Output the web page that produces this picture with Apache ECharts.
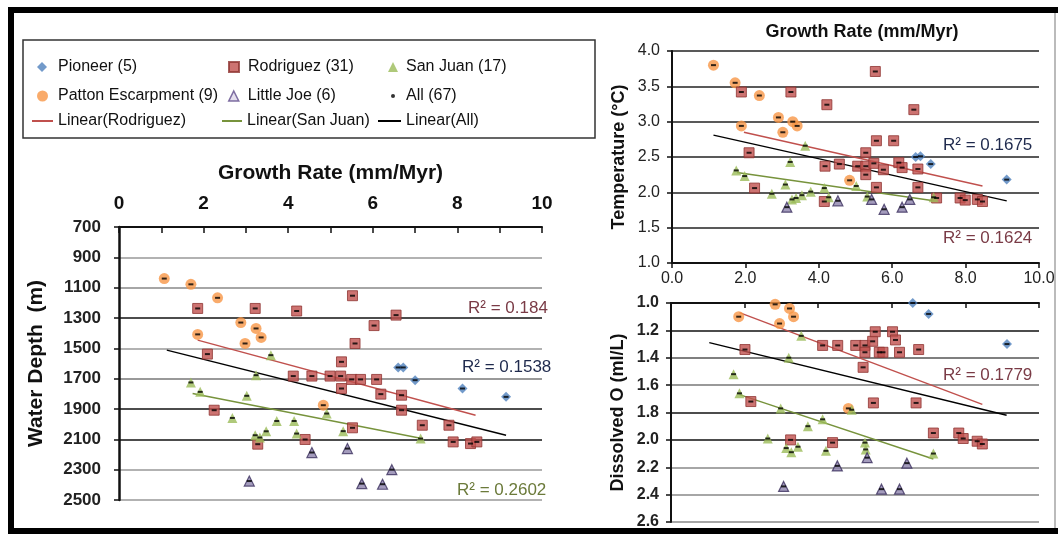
<!DOCTYPE html>
<html>
<head>
<meta charset="utf-8">
<script src="https://cdn.jsdelivr.net/npm/echarts@6/dist/echarts.min.js"></script>
<style>
  html, body { margin: 0; padding: 0; background: #fff; }
  #chart { width: 1058px; height: 534px; }
</style>
</head>
<body>
<div id="chart"></div>
<script>
// growth rate (mm/Myr) vs water depth (m)
var pioneerDepth = [[6.60,1626],[6.72,1626],[7.00,1710],[8.12,1765],[9.15,1820]];
var pattonDepth = [[1.07,1040],[1.70,1078],[2.33,1167],[2.88,1330],[3.24,1369],[3.36,1428],[1.86,1408],[2.98,1468],[4.83,1875]];
var rodriguezDepth = [[1.86,1237],[3.22,1237],[4.20,1254],[5.52,1153],[6.55,1281],[6.03,1350],[5.58,1468],[5.26,1589],[2.09,1538],[4.12,1683],[4.56,1683],[4.99,1683],[5.24,1683],[5.50,1705],[5.71,1705],[6.09,1705],[5.26,1765],[6.19,1802],[6.68,1809],[6.68,1908],[2.25,1908],[3.28,2132],[4.40,2101],[7.17,2007],[7.80,2007],[5.52,2024],[7.90,2117],[8.31,2128],[8.46,2117]];
var sanJuanDepth = [[3.59,1545],[3.24,1677],[1.70,1725],[1.92,1787],[3.02,1813],[2.68,1959],[3.73,1979],[4.14,1979],[4.20,2062],[3.48,2047],[3.22,2073],[3.33,2088],[4.91,1930],[5.30,2046],[7.13,2095]];
var littleJoeDepth = [[3.08,2375],[4.56,2187],[5.40,2161],[5.74,2392],[6.23,2396],[6.45,2300]];
var rodLineDepth = [[1.86,1446],[8.43,1941]];
var sjLineDepth = [[1.74,1798],[7.13,2093]];
var allLineDepth = [[1.13,1512],[9.15,2073]];

// growth rate vs temperature (°C)
var pioneerTemp = [[6.64,2.50],[6.77,2.51],[7.05,2.40],[9.12,2.18]];
var pattonTemp = [[1.13,3.80],[1.72,3.55],[2.38,3.37],[2.90,3.06],[3.29,3.00],[3.41,2.94],[1.89,2.94],[3.02,2.85],[4.84,2.17]];
var rodriguezTemp = [[1.89,3.42],[3.24,3.42],[4.22,3.24],[5.54,3.71],[6.59,3.17],[5.57,2.73],[6.04,2.73],[2.10,2.56],[5.28,2.56],[4.17,2.37],[4.56,2.40],[5.06,2.37],[5.28,2.37],[5.50,2.41],[5.76,2.32],[5.28,2.25],[6.18,2.42],[6.27,2.35],[6.70,2.33],[5.57,2.07],[6.70,2.07],[2.25,2.06],[7.21,1.92],[7.85,1.92],[7.99,1.89],[8.32,1.90],[8.46,1.87],[4.15,1.87]];
var sanJuanTemp = [[3.63,2.66],[3.22,2.43],[1.75,2.31],[1.98,2.23],[3.09,2.11],[2.72,1.98],[3.27,1.90],[3.38,1.92],[3.54,1.96],[3.78,2.01],[4.15,2.06],[4.27,1.93],[5.02,2.09],[5.32,1.94],[7.13,1.93]];
var littleJoeTemp = [[3.13,1.79],[4.52,1.88],[5.44,1.90],[5.78,1.76],[6.27,1.79],[6.48,1.90]];
var rodLineTemp = [[1.96,2.85],[8.46,2.09]];
var sjLineTemp = [[1.77,2.28],[7.13,1.88]];
var allLineTemp = [[1.13,2.81],[9.12,1.88]];

// growth rate vs dissolved O (ml/L)
var pioneerDO = [[6.57,1.00],[7.00,1.08],[9.13,1.30]];
var pattonDO = [[2.83,1.01],[3.22,1.04],[3.33,1.10],[1.84,1.10],[2.95,1.15],[4.82,1.77]];
var rodriguezDO = [[2.01,1.34],[4.12,1.31],[4.53,1.31],[5.02,1.31],[5.27,1.31],[5.27,1.36],[5.48,1.28],[5.55,1.21],[5.66,1.36],[5.76,1.36],[6.02,1.21],[6.10,1.27],[6.21,1.36],[6.73,1.34],[5.22,1.47],[2.17,1.72],[5.50,1.73],[6.66,1.73],[3.25,2.00],[4.39,2.02],[7.13,1.95],[7.82,1.95],[7.94,1.99],[8.32,2.01],[8.46,2.03]];
var sanJuanDO = [[3.54,1.24],[3.20,1.40],[1.70,1.52],[1.86,1.66],[2.98,1.77],[4.91,1.78],[4.12,1.85],[3.72,1.90],[2.63,1.99],[3.13,2.06],[3.27,2.09],[3.45,2.05],[4.21,2.08],[5.27,2.02],[5.29,2.07],[7.13,2.10]];
var littleJoeDO = [[3.06,2.34],[4.52,2.19],[5.33,2.13],[6.41,2.17],[5.72,2.36],[6.21,2.36]];
var rodLineDO = [[1.86,1.07],[8.46,1.74]];
var sjLineDO = [[1.86,1.67],[7.13,2.14]];
var allLineDO = [[1.04,1.29],[9.12,1.82]];

var FONT = '"Liberation Sans", Arial, sans-serif';

var chart = echarts.init(document.getElementById('chart'));

// one panel = trend lines + 5 groups + "All" dots
function panelSeries(g, d) {
  var s = [];
  function line(name, data, color) {
    s.push({
      name: name, type: 'line', xAxisIndex: g, yAxisIndex: g, data: data,
      symbol: 'none', silent: true, z: 2,
      lineStyle: { color: color, width: 1.4 }, itemStyle: { color: color }
    });
  }
  function pts(name, data, symbol, size, style) {
    s.push({
      name: name, type: 'scatter', xAxisIndex: g, yAxisIndex: g, data: data,
      symbol: symbol, symbolSize: size, itemStyle: style, z: 3
    });
  }
  line('Linear(Rodriguez)', d.rodLine, '#c0504d');
  line('Linear(San Juan)', d.sjLine, '#77933c');
  line('Linear(All)', d.allLine, '#000');
  pts('Pioneer (5)', d.pioneer, 'diamond', 10, { color: '#4f81bd' });
  pts('Patton Escarpment (9)', d.patton, 'circle', 11, { color: '#f79646' });
  pts('Rodriguez (31)', d.rodriguez, 'rect', 10, { color: '#c0504d', borderColor: '#8e3432', borderWidth: 1 });
  pts('San Juan (17)', d.sanJuan, 'triangle', 10, { color: '#9bbb59' });
  pts('Little Joe (6)', d.littleJoe, 'triangle', 10, { color: '#8d83ad', borderColor: '#3b2f5e', borderWidth: 1.2 });
  var all = [].concat(d.pioneer, d.patton, d.rodriguez, d.sanJuan, d.littleJoe);
  s.push({
    name: 'All (67)', type: 'scatter', xAxisIndex: g, yAxisIndex: g, data: all,
    symbol: 'rect', symbolSize: [5, 2], itemStyle: { color: '#000' }, z: 4, silent: true
  });
  return s;
}

var series = [].concat(
  panelSeries(0, { pioneer: pioneerDepth, patton: pattonDepth, rodriguez: rodriguezDepth, sanJuan: sanJuanDepth, littleJoe: littleJoeDepth, rodLine: rodLineDepth, sjLine: sjLineDepth, allLine: allLineDepth }),
  panelSeries(1, { pioneer: pioneerTemp, patton: pattonTemp, rodriguez: rodriguezTemp, sanJuan: sanJuanTemp, littleJoe: littleJoeTemp, rodLine: rodLineTemp, sjLine: sjLineTemp, allLine: allLineTemp }),
  panelSeries(2, { pioneer: pioneerDO, patton: pattonDO, rodriguez: rodriguezDO, sanJuan: sanJuanDO, littleJoe: littleJoeDO, rodLine: rodLineDO, sjLine: sjLineDO, allLine: allLineDO })
);

// each legend entry placed on its own: icon box w x h starting at left, text at textX
function leg(item, left, cy, w, h, textX) {
  return {
    data: [item], left: left, top: cy - 9, itemWidth: w, itemHeight: h, padding: 0,
    selectedMode: false,
    textStyle: { fontSize: 16, color: '#111', fontFamily: FONT,
      padding: [0, 0, 0, Math.max(0, textX - (left + w + 5))] }
  };
}
var legends = [
  leg({ name: 'Pioneer (5)', icon: 'diamond' }, 37, 68, 10, 10, 58),
  leg({ name: 'Rodriguez (31)', icon: 'rect' }, 228, 68, 10, 10, 247),
  leg({ name: 'San Juan (17)', icon: 'triangle' }, 388, 68, 10, 10, 406),
  leg({ name: 'Patton Escarpment (9)', icon: 'circle' }, 37, 97, 11, 11, 58),
  leg({ name: 'Little Joe (6)', icon: 'triangle', itemStyle: { color: '#ddd6ea', borderColor: '#5f4b8b', borderWidth: 1.5 } }, 228, 97, 10, 10, 247),
  leg({ name: 'All (67)', icon: 'circle' }, 391, 97, 4, 4, 406),
  leg({ name: 'Linear(Rodriguez)', icon: 'rect', itemStyle: { color: '#c0504d' } }, 32, 122, 21, 2, 58),
  leg({ name: 'Linear(San Juan)', icon: 'rect', itemStyle: { color: '#77933c' } }, 222, 122, 20, 2, 247),
  leg({ name: 'Linear(All)', icon: 'rect', itemStyle: { color: '#000' } }, 378, 122, 23, 2, 406)
];

var option = {
  animation: false,
  backgroundColor: '#fff',
  textStyle: { fontFamily: FONT },
  legend: legends,
  grid: [
    { left: 119, top: 227, width: 423, height: 273 },
    { left: 672, top: 51, width: 367, height: 212 },
    { left: 671, top: 303, width: 368, height: 219 }
  ],
  xAxis: [
    {
      gridIndex: 0, type: 'value', position: 'top', min: 0, max: 10, interval: 1,
      name: 'Growth Rate (mm/Myr)', nameLocation: 'middle', nameGap: 43,
      nameTextStyle: { fontSize: 21, fontWeight: 'bold', color: '#111' },
      axisLine: { lineStyle: { color: '#111', width: 2 } },
      axisTick: { inside: true, length: 6, lineStyle: { color: '#111', width: 1.5 } },
      axisLabel: { fontSize: 19, fontWeight: 'bold', color: '#111', margin: 14,
        formatter: function (v) { return v % 2 === 0 ? v : ''; } },
      splitLine: { show: false }
    },
    {
      gridIndex: 1, type: 'value', position: 'bottom', min: 0, max: 10, interval: 2,
      axisLine: { onZero: false, lineStyle: { color: '#111', width: 2 } },
      axisTick: { length: 5, lineStyle: { color: '#111', width: 1.5 } },
      axisLabel: { fontSize: 16, color: '#222', margin: 8,
        formatter: function (v) { return v.toFixed(1); } },
      splitLine: { show: false }
    },
    {
      gridIndex: 2, type: 'value', position: 'top', min: 0, max: 10, interval: 2,
      axisLine: { onZero: false, lineStyle: { color: '#111', width: 2 } },
      axisTick: { inside: true, length: 5, lineStyle: { color: '#111', width: 1.5 } },
      axisLabel: { show: false },
      splitLine: { show: false }
    }
  ],
  yAxis: [
    {
      gridIndex: 0, type: 'value', inverse: true, min: 700, max: 2500, interval: 200,
      name: 'Water Depth  (m)', nameLocation: 'middle', nameGap: 72,
      nameTextStyle: { fontSize: 21, fontWeight: 'bold', color: '#111' },
      axisLine: { show: true, lineStyle: { color: '#111', width: 2.5 } },
      axisTick: { show: true, length: 5, lineStyle: { color: '#111', width: 1.5 } },
      axisLabel: { fontSize: 17, fontWeight: 'bold', color: '#222', margin: 18,
        formatter: function (v) { return String(v); } },
      splitLine: { lineStyle: { width: 1.6,
        color: ['#111', '#999', '#888', '#111', '#999', '#777', '#111', '#111', '#999', '#999'] } }
    },
    {
      gridIndex: 1, type: 'value', min: 1, max: 4, interval: 0.5,
      name: 'Temperature (°C)', nameLocation: 'middle', nameGap: 44,
      nameTextStyle: { fontSize: 18, fontWeight: 'bold', color: '#111' },
      axisLine: { show: true, lineStyle: { color: '#111', width: 2 } },
      axisTick: { show: true, length: 5, lineStyle: { color: '#111', width: 1.5 } },
      axisLabel: { fontSize: 16, color: '#222', margin: 12,
        formatter: function (v) { return v.toFixed(1); } },
      splitLine: { lineStyle: { width: 1.6, color: '#222' } }
    },
    {
      gridIndex: 2, type: 'value', inverse: true, min: 1, max: 2.6, interval: 0.2,
      name: 'Dissolved O (ml/L)', nameLocation: 'middle', nameGap: 44,
      nameTextStyle: { fontSize: 18, fontWeight: 'bold', color: '#111' },
      axisLine: { show: true, lineStyle: { color: '#111', width: 2 } },
      axisTick: { show: true, length: 5, lineStyle: { color: '#111', width: 1.5 } },
      axisLabel: { fontSize: 16, fontWeight: 'bold', color: '#222', margin: 12,
        formatter: function (v) { return v.toFixed(1); } },
      splitLine: { lineStyle: { width: 1.6,
        color: ['#111', '#111', '#555', '#777', '#111', '#111', '#888', '#888', '#888'] } }
    }
  ],
  graphic: [
    // outer frame: heavy black on top/left/bottom, faint on the right
    { type: 'line', shape: { x1: 8, y1: 10, x2: 1058, y2: 10 }, silent: true, style: { stroke: '#000', lineWidth: 6 } },
    { type: 'line', shape: { x1: 11, y1: 7, x2: 11, y2: 534 }, silent: true, style: { stroke: '#000', lineWidth: 6 } },
    { type: 'line', shape: { x1: 8, y1: 531, x2: 1058, y2: 531 }, silent: true, style: { stroke: '#000', lineWidth: 6 } },
    { type: 'line', shape: { x1: 1055, y1: 13, x2: 1055, y2: 528 }, silent: true, style: { stroke: '#bbb', lineWidth: 2 } },
    // legend box
    { type: 'rect', shape: { x: 23, y: 40, width: 572, height: 98 }, silent: true,
      style: { fill: 'none', stroke: '#333', lineWidth: 1.5 } },
    { type: 'text', x: 862, y: 32, silent: true,
      style: { text: 'Growth Rate (mm/Myr)', font: 'bold 18px ' + FONT, fill: '#111',
        textAlign: 'center', textVerticalAlign: 'middle', align: 'center', verticalAlign: 'middle' } },
    { type: 'text', x: 468, y: 308, silent: true,
      style: { text: 'R² = 0.184', font: '17px ' + FONT, fill: '#7a3b46', textVerticalAlign: 'middle', verticalAlign: 'middle' } },
    { type: 'text', x: 462, y: 367, silent: true,
      style: { text: 'R² = 0.1538', font: '17px ' + FONT, fill: '#1f2a4d', textVerticalAlign: 'middle', verticalAlign: 'middle' } },
    { type: 'text', x: 457, y: 490, silent: true,
      style: { text: 'R² = 0.2602', font: '17px ' + FONT, fill: '#6b7a3a', textVerticalAlign: 'middle', verticalAlign: 'middle' } },
    { type: 'text', x: 943, y: 145, silent: true,
      style: { text: 'R² = 0.1675', font: '17px ' + FONT, fill: '#1f2a4d', textVerticalAlign: 'middle', verticalAlign: 'middle' } },
    { type: 'text', x: 943, y: 238, silent: true,
      style: { text: 'R² = 0.1624', font: '17px ' + FONT, fill: '#7a3b46', textVerticalAlign: 'middle', verticalAlign: 'middle' } },
    { type: 'text', x: 943, y: 375, silent: true,
      style: { text: 'R² = 0.1779', font: '17px ' + FONT, fill: '#7a3b46', textVerticalAlign: 'middle', verticalAlign: 'middle' } }
  ],
  series: series
};

chart.setOption(option);
</script>
</body>
</html>
